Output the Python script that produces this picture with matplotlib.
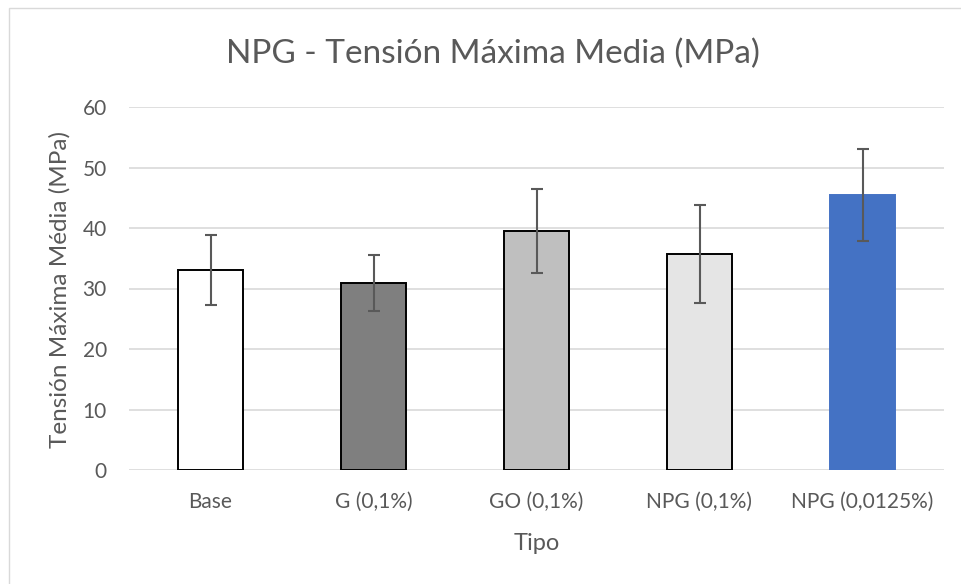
import matplotlib
matplotlib.use("Agg")
import matplotlib.pyplot as plt
from matplotlib.patches import Rectangle

categories = ["Base", "G (0,1%)", "GO (0,1%)", "NPG (0,1%)", "NPG (0,0125%)"]
values = [33.0, 30.9, 39.5, 35.7, 45.4]
errors = [5.8, 4.65, 6.95, 8.1, 7.6]
bar_colors = ["#ffffff", "#7f7f7f", "#bfbfbf", "#e5e5e5", "#4472c4"]
edge_colors = ["#000000", "#000000", "#000000", "#000000", "#4472c4"]
yticks = [0, 10, 20, 30, 40, 50, 60]

title = "NPG - Tensión Máxima Media (MPa)"
xlabel = "Tipo"
ylabel = "Tensión Máxima Média (MPa)"

plt.rcParams['font.family'] = ['Lato', 'DejaVu Sans']
txt = "#595959"

W, H = 961, 584
fig = plt.figure(figsize=(W / 100, H / 100), dpi=100)
fig.patch.set_facecolor("white")

# chart border
fig.patches.append(Rectangle((9 / W, -0.1), 1.2, (H - 8) / H + 0.1, transform=fig.transFigure,
                             fill=False, edgecolor="#d9d9d9", linewidth=1.0))

ax = fig.add_axes([129 / W, (H - 470) / H, (944 - 129) / W, (470 - 107) / H])
x = list(range(len(categories)))
ax.bar(x, values, width=0.40, color=bar_colors, edgecolor=edge_colors, linewidth=1.4, zorder=2)
ax.errorbar(x, values, yerr=errors, fmt="none", ecolor="#595959", elinewidth=1.5,
            capsize=4.3, capthick=1.5, zorder=3)

ax.set_xlim(-0.5, len(categories) - 0.5)
ax.set_ylim(0, 60)
ax.set_yticks(yticks)
ax.set_xticks(x)
ax.set_xticklabels(categories)
ax.yaxis.grid(True, color="#d9d9d9", linewidth=1.2, zorder=0)
ax.set_axisbelow(True)
for s in ax.spines.values():
    s.set_visible(False)
ax.tick_params(axis="both", length=0, colors=txt, labelsize=15)
ax.tick_params(axis="y", pad=16)
ax.tick_params(axis="x", pad=16)

fig.text(536.5 / W, 1 - 550 / H, xlabel, ha="center", va="baseline", fontsize=17, color=txt)
fig.text(60 / W, 1 - 290 / H, ylabel, ha="center", va="center", rotation=90,
         fontsize=17.5, color=txt)

fig.text(492.5 / W, 1 - 63 / H, title, ha="center", va="baseline", fontsize=24, color=txt)

fig.savefig("out.png", dpi=100, facecolor="white")
